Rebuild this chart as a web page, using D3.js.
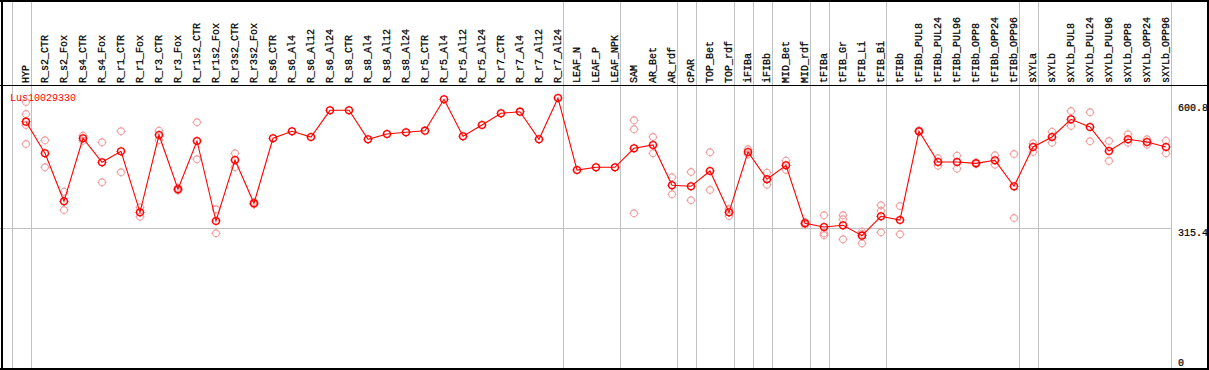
<!DOCTYPE html>
<html>
<head>
<meta charset="utf-8">
<script src="https://cdn.jsdelivr.net/npm/d3@7"></script>
<style>
  html, body { margin: 0; padding: 0; background: #fff; }
  svg { display: block; }
  text { font-family: "Liberation Mono", "DejaVu Sans Mono", monospace; font-size: 10px; }
</style>
</head>
<body>
<svg id="chart" width="1209" height="370"></svg>
<script>
const geneName = "Lus10029330";

const categories = ["HYP","R_s2_CTR","R_s2_Fox","R_s4_CTR","R_s4_Fox","R_r1_CTR","R_r1_Fox","R_r3_CTR","R_r3_Fox",
  "R_r1s2_CTR","R_r1s2_Fox","R_r3s2_CTR","R_r3s2_Fox","R_s6_CTR","R_s6_Al4","R_s6_Al12","R_s6_Al24",
  "R_s8_CTR","R_s8_Al4","R_s8_Al12","R_s8_Al24","R_r5_CTR","R_r5_Al4","R_r5_Al12","R_r5_Al24",
  "R_r7_CTR","R_r7_Al4","R_r7_Al12","R_r7_Al24","LEAF_N","LEAF_P","LEAF_NPK","SAM","AR_Bet","AR_rdf",
  "cPAR","TOP_Bet","TOP_rdf","iFIBa","iFIBb","MID_Bet","MID_rdf","tFIBa","tFIB_Gr","tFIB_Li","tFIB_Bi",
  "tFIBb","tFIBb_PUL8","tFIBb_PUL24","tFIBb_PUL96","tFIBb_OPP8","tFIBb_OPP24","tFIBb_OPP96",
  "sXYLa","sXYLb","sXYLb_PUL8","sXYLb_PUL24","sXYLb_PUL96","sXYLb_OPP8","sXYLb_OPP24","sXYLb_OPP96"];

// number of columns in each group (separated by vertical lines)
const groupSizes = [1, 28, 3, 3, 1, 2, 1, 1, 2, 1, 3, 7, 1, 7];

const meanValues = [558.1,485.9,376.2,520.2,465.3,490.5,351.1,527.7,403.7,
  514.0,331.2,470.6,371.7,520.2,536.1,523.1,584.1,
  584.1,517.9,530.0,533.9,537.5,609.2,524.7,550.5,
  577.3,580.9,517.9,612.2,447.7,453.9,453.9,497.3,504.9,412.8,
  410.5,445.5,351.1,488.9,426.5,458.5,326.0,317.5,321.4,297.7,342.0,
  333.5,536.1,466.0,466.0,463.0,469.9,410.5,
  500.3,523.1,563.6,546.0,491.1,517.9,511.7,500.3];

const replicateValues = [
  [603.1,575.7,550.5,507.1],[515.6,453.9],[398.2,356.4],[526.1,514.7],[511.0,419.6],[536.1,442.5],[362.5,341.1],[537.5,516.3],[406.6,400.9],
  [556.7,472.2],[358.0,303.1],[485.9,453.9],[374.6,368.9],[],[],[],[],
  [],[],[],[],[],[],[],[],
  [],[],[],[],[],[],[],[561.3,540.7,348.8],[523.1,485.9],[431.1,392.2],
  [443.2,378.5],[488.2,402.1],[358.7,342.7],[495.0,483.6],[441.6,414.2],[469.0,447.7],[329.0,322.8],[344.3,303.1,298.6],[344.3,335.1,289.4],[306.8,301.5,280.3],[367.1,354.8,305.4],
  [365.5,300.9],[538.0,534.5],[474.5,457.6],[480.4,450.7],[464.9,461.4],[481.3,459.9],[484.3,338.1],
  [508.7,488.9],[535.2,510.1],[582.5,548.3],[579.6,513.3],[514.0,468.3],[529.3,510.1],[517.9,505.5],[514.7,485.9]];

const tickValues = [600.8, 315.4, 0];
const tickLabels = ["600.8", "315.4", "0"];

const W = 1209, H = 370;
const svg = d3.select("#chart");

const x = d3.scalePoint().domain(categories).range([26, 1166]);
const y = d3.scaleLinear().domain([0, 600.8]).range([366, 103]);

const gray = "#c0c0c0";
const red = "#ff0000";
const pink = "#f09a9a";

// vertical group separators
const sepX = [x(categories[0]) - 14.5];
let acc = 0;
groupSizes.forEach(s => { acc += s; sepX.push(x(categories[acc - 1]) + 4.5); });
svg.append("g").selectAll("line").data(sepX).join("line")
  .attr("x1", d => Math.round(d) + 0.5).attr("x2", d => Math.round(d) + 0.5)
  .attr("y1", 0).attr("y2", H)
  .attr("stroke", gray).attr("stroke-width", 1).attr("shape-rendering", "crispEdges");

// horizontal gridline at middle tick
svg.append("line")
  .attr("x1", 0).attr("x2", Math.round(sepX[sepX.length - 1]) + 0.5)
  .attr("y1", Math.round(y(315.4)) + 0.5).attr("y2", Math.round(y(315.4)) + 0.5)
  .attr("stroke", gray).attr("shape-rendering", "crispEdges");

// borders
const border = svg.append("g").attr("stroke", "#000").attr("stroke-width", 1.5).attr("shape-rendering", "crispEdges");
border.append("line").attr("x1", 0).attr("x2", W).attr("y1", 0.75).attr("y2", 0.75);
border.append("line").attr("x1", 0).attr("x2", W).attr("y1", 85.5).attr("y2", 85.5);
border.append("line").attr("x1", 0).attr("x2", W).attr("y1", 368.75).attr("y2", 368.75);
border.append("line").attr("x1", 1.75).attr("x2", 1.75).attr("y1", 0).attr("y2", H);
border.append("line").attr("x1", 1207.75).attr("x2", 1207.75).attr("y1", 0).attr("y2", H);

// column labels
svg.append("g").selectAll("text").data(categories).join("text")
  .attr("transform", d => `translate(${x(d) + 3},83) rotate(-90)`)
  .attr("text-anchor", "start")
  .attr("fill", "#000").attr("stroke", "#000").attr("stroke-width", 0.25)
  .text(d => d);

// right axis labels
const tickOffsets = [8, 8.5, 0];
svg.append("g").selectAll("text").data(tickValues).join("text")
  .attr("x", 1178).attr("y", (d, i) => y(d) + tickOffsets[i])
  .attr("fill", "#000").attr("stroke", "#000").attr("stroke-width", 0.2)
  .text((d, i) => tickLabels[i]);

// gene name
svg.append("text").attr("x", 10).attr("y", 101).attr("fill", red).text(geneName);

function marker(g, color, sw) {
  g.append("circle").attr("r", 3.4).attr("fill", "none").attr("stroke", color).attr("stroke-width", sw);
  [[0,-3.4,0,-4.6],[0,3.4,0,4.6],[-3.4,0,-4.6,0],[3.4,0,4.6,0]].forEach(c => {
    g.append("line").attr("x1", c[0]).attr("y1", c[1]).attr("x2", c[2]).attr("y2", c[3])
      .attr("stroke", color).attr("stroke-width", 1);
  });
}

// replicates
const reps = [];
categories.forEach((c, i) => replicateValues[i].forEach(v => reps.push({c, v})));
svg.append("g").selectAll("g").data(reps).join("g")
  .attr("transform", d => `translate(${x(d.c)},${y(d.v)})`)
  .each(function() { marker(d3.select(this), pink, 1.1); });

// mean line
const line = d3.line().x((d, i) => x(categories[i])).y(d => y(d));
svg.append("path").datum(meanValues).attr("d", line)
  .attr("fill", "none").attr("stroke", red).attr("stroke-width", 1.1);

// mean markers
svg.append("g").selectAll("g").data(meanValues).join("g")
  .attr("transform", (d, i) => `translate(${x(categories[i])},${y(d)})`)
  .each(function() { marker(d3.select(this), red, 1.4); });
</script>
</body>
</html>
